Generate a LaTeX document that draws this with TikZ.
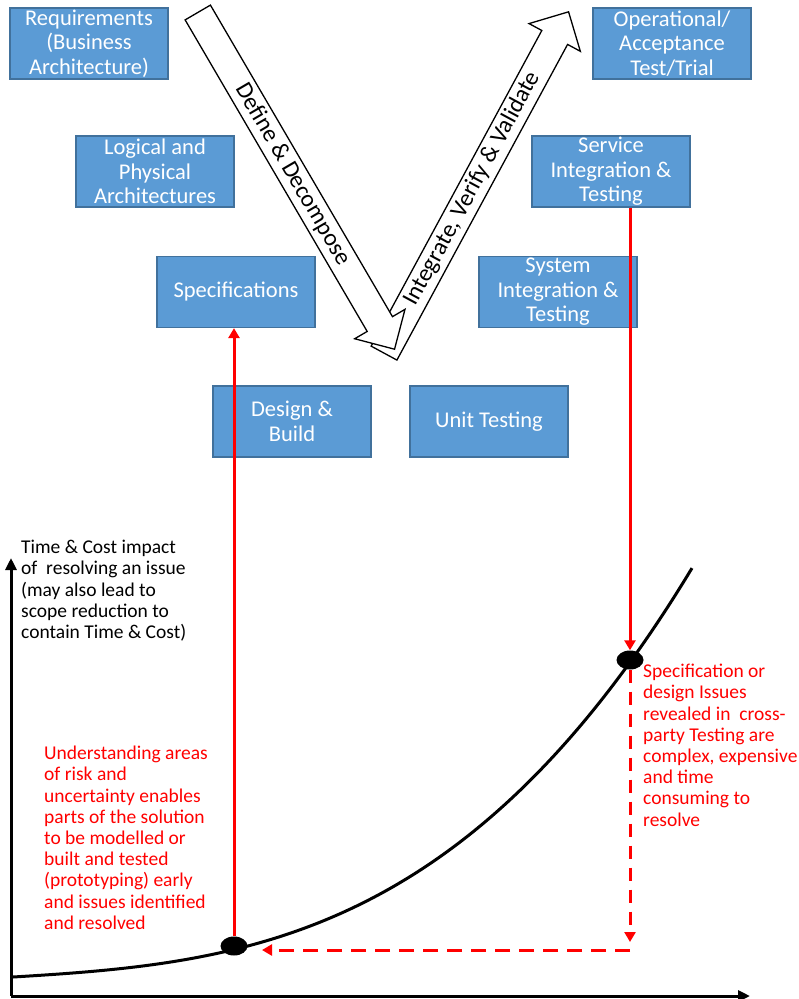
\documentclass[tikz,border=0pt]{standalone}
\usepackage{fontspec}
\setmainfont{Carlito}
\usetikzlibrary{shapes.arrows,shapes.geometric,arrows.meta}

\definecolor{boxblue}{HTML}{5B9BD5}
\definecolor{boxedge}{HTML}{41719C}

\begin{document}
\begin{tikzpicture}[
  x=1pt, y=1pt,
  v_box/.style={rectangle, fill=boxblue, draw=boxedge, line width=1.2pt, minimum width=158pt, minimum height=71pt, inner sep=1pt, align=center, text=white, font=\fontsize{22.5}{24.5}\selectfont},
  big_arrow/.style={single arrow, draw=black, fill=white, line width=1.3pt, single arrow head extend=14.5pt, single arrow tip angle=90, inner xsep=2pt, inner ysep=0pt, text height=20pt, text depth=8pt, anchor=tip, font=\fontsize{24}{25}\selectfont},
  note/.style={anchor=north west, inner sep=0pt, align=left, font=\fontsize{19.5}{21.2}\selectfont},
  red_line/.style={red, line width=3pt},
  dot/.style={ellipse, fill=black, minimum width=27pt, minimum height=19pt, inner sep=0pt},
]
\useasboundingbox (0,0) rectangle (799,-999);

% the V
\draw (569,-11) node (ivv) [big_arrow, rotate=61.6, minimum height=388pt] {Integrate, Verify \& Validate};
\draw (395,-350) node (dd) [big_arrow, rotate=-59.7, minimum height=390pt] {Define \& Decompose};

\draw (89,-43.5) node (req) [v_box] {Requirements\\(Business\\Architecture)};
\draw (155,-171.5) node (lpa) [v_box] {Logical and\\Physical\\Architectures};
\draw (236,-292) node (spec) [v_box] {Specifications};
\draw (292,-421.5) node (dab) [v_box] {Design \&\\Build};
\draw (489,-421.5) node (unit) [v_box] {Unit Testing};
\draw (558,-292) node (sit) [v_box] {System\\Integration \&\\Testing};
\draw (611,-171.5) node (sint) [v_box] {Service\\Integration \&\\Testing};
\draw (672,-43.5) node (oat) [v_box] {Operational/\\Acceptance\\Test/Trial};

% axes
\coordinate (origin) at (11,-996);
\draw[line width=3pt, -{Triangle[width=11pt,length=12pt]}] (origin) -- (11,-558);
\draw[line width=3pt, -{Triangle[width=11pt,length=12pt]}] (origin) -- (750,-996);

\draw (21,-540) node (ylab) [note] {Time \& Cost impact\\of\ \ resolving an issue\\(may also lead to\\scope reduction to\\contain Time \& Cost)};

% cost curve
\draw[line width=3pt] plot[domain=13:692, samples=80, smooth] (\x, {-977 + 0.06*(\x-13) + 1.111*((\x/100)^3) - 0.0024});

\draw (234,-946) node (lo) [dot] {};
\draw (630,-660) node (hi) [dot] {};

% red connectors
\draw[red_line, -{Triangle[width=11pt,length=10pt]}] (lo.north) -- (lo.north |- spec.south);
\draw[red_line, -{Triangle[width=11pt,length=10pt]}] (hi.north |- sint.south) -- (hi.north);
\coordinate (turn) at (630,-950);
\coordinate (back) at (262,-950);
\draw[red_line, dash pattern=on 13pt off 9pt, -{Triangle[width=11pt,length=10pt]}] (hi.south) -- ([yshift=8pt]turn);
\draw[red_line, dash pattern=on 15pt off 9pt, -{Triangle[width=11pt,length=10pt]}] (turn) -- (back);

\draw (44,-746) node (early) [note, text=red] {Understanding areas\\of risk and\\uncertainty enables\\parts of the solution\\to be modelled or\\built and tested\\(prototyping) early\\and issues identified\\and resolved};
\draw (643,-664) node (late) [note, text=red] {Specification or\\design Issues\\revealed in\ \ cross-\\party Testing are\\complex, expensive\\and time\\consuming to\\resolve};
\end{tikzpicture}
\end{document}
